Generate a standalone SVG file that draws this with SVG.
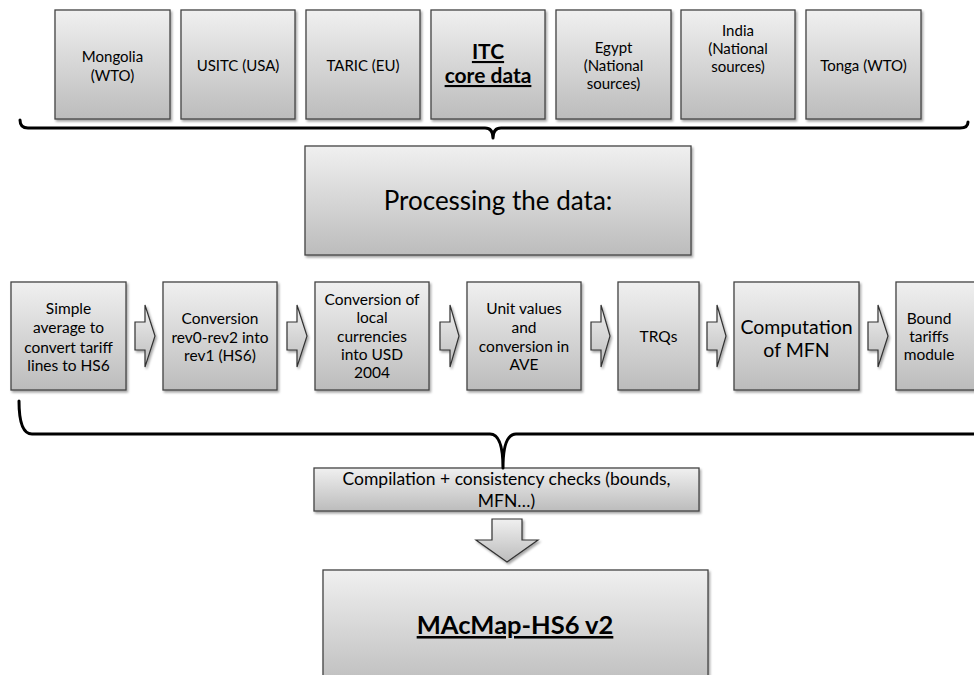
<svg xmlns="http://www.w3.org/2000/svg" width="974" height="675" viewBox="0 0 974 675">
<defs>
<linearGradient id="g" x1="0" y1="0" x2="0" y2="1">
<stop offset="0" stop-color="#f0f0f0"/>
<stop offset="1" stop-color="#bcbcbc"/>
</linearGradient>
<filter id="sh" x="-10%" y="-10%" width="130%" height="130%">
<feDropShadow dx="1.5" dy="2" stdDeviation="1.2" flood-color="#000" flood-opacity="0.35"/>
</filter>
</defs>
<style>
.box{fill:url(#g);stroke:#444;stroke-width:1.3;filter:url(#sh)}
.arr{fill:url(#g);stroke:#333;stroke-width:1.2;filter:url(#sh)}
.brace{fill:none;stroke:#000;stroke-width:3;stroke-linejoin:round;stroke-linecap:round}
text{font-family:Lato,"Open Sans","Liberation Sans",sans-serif;fill:#000;text-anchor:middle}
.s{font-size:15px}
.m{font-size:15.5px}
.b{font-weight:bold;text-decoration:underline}
</style>
<rect width="974" height="675" fill="#fff"/>
<g id="n-mongolia"><rect class="box" x="55" y="10" width="115" height="109"/><text class="s" x="112.5" y="62">Mongolia</text><text class="s" x="112.5" y="81">(WTO)</text></g>
<g id="n-usitc"><rect class="box" x="181" y="10" width="114" height="109"/><text class="s" x="238" y="71">USITC (USA)</text></g>
<g id="n-taric"><rect class="box" x="306" y="10" width="114" height="109"/><text class="s" x="363" y="71">TARIC (EU)</text></g>
<g id="n-itc"><rect class="box" x="431" y="10" width="114" height="109"/><text class="b" style="font-size:21px" x="488" y="59">ITC</text><text class="b" style="font-size:21px" x="488" y="83">core data</text></g>
<g id="n-egypt"><rect class="box" x="556" y="10" width="115" height="109"/><text class="s" x="613.5" y="53">Egypt</text><text class="s" x="613.5" y="71">(National</text><text class="s" x="613.5" y="89">sources)</text></g>
<g id="n-india"><rect class="box" x="681" y="10" width="114" height="109"/><text class="s" x="738" y="36">India</text><text class="s" x="738" y="54">(National</text><text class="s" x="738" y="72">sources)</text></g>
<g id="n-tonga"><rect class="box" x="806" y="10" width="115" height="109"/><text class="s" x="863.5" y="71">Tonga (WTO)</text></g>

<g id="n-processing"><rect class="box" x="305" y="146" width="386" height="109"/><text style="font-size:26px" x="498" y="210">Processing the data:</text></g>

<g id="n-simple"><rect class="box" x="11" y="282" width="115" height="108"/><text class="m" x="68.5" y="314">Simple</text><text class="m" x="68.5" y="333">average to</text><text class="m" x="68.5" y="353">convert tariff</text><text class="m" x="68.5" y="371">lines to HS6</text></g>
<g id="n-rev"><rect class="box" x="163" y="282" width="114" height="108"/><text class="m" x="220" y="324">Conversion</text><text class="m" x="220" y="343">rev0-rev2 into</text><text class="m" x="220" y="361">rev1 (HS6)</text></g>
<g id="n-curr"><rect class="box" x="315" y="282" width="114" height="108"/><text class="m" x="372" y="305">Conversion of</text><text class="m" x="372" y="323">local</text><text class="m" x="372" y="342">currencies</text><text class="m" x="372" y="360">into USD</text><text class="m" x="372" y="378">2004</text></g>
<g id="n-unit"><rect class="box" x="467" y="282" width="114" height="108"/><text class="m" x="524" y="314">Unit values</text><text class="m" x="524" y="333">and</text><text class="m" x="524" y="352">conversion in</text><text class="m" x="524" y="370">AVE</text></g>
<g id="n-trq"><rect class="box" x="618" y="282" width="81" height="108"/><text class="m" x="658.5" y="342">TRQs</text></g>
<g id="n-mfn"><rect class="box" x="734" y="282" width="125" height="108"/><text style="font-size:19.5px" x="796.5" y="334">Computation</text><text style="font-size:19.5px" x="796.5" y="357">of MFN</text></g>
<g id="n-bound"><rect class="box" x="896" y="282" width="90" height="108"/><text class="m" x="929" y="324">Bound</text><text class="m" x="929" y="342">tariffs</text><text class="m" x="929" y="360">module</text></g>

<g id="n-compilation"><rect class="box" x="314" y="468" width="385" height="43"/><text style="font-size:17.5px" x="506.5" y="485">Compilation + consistency checks (bounds,</text><text style="font-size:17.5px" x="506.5" y="507">MFN…)</text></g>

<g id="n-macmap"><rect class="box" x="323" y="570" width="385" height="120"/><text class="b" style="font-size:25.5px" x="515" y="634">MAcMap-HS6 v2</text></g>

<g id="connectors">
<path class="brace" d="M20,120 Q20,128 28,128 L485,128 Q493,128 493,138 Q493,128 501,128 L960,128 Q968,128 968,122"/>
<path class="brace" d="M19,401 Q19,434 32,434 L490,434 Q503,434 503,468 Q503,434 516,434 L985,434"/>
<path class="arr" d="M135,322 H145 V305 L155,336 L145,367 V350 H135 Z"/>
<path class="arr" d="M287,322 H297 V305 L307,336 L297,367 V350 H287 Z"/>
<path class="arr" d="M440,322 H450 V305 L459,336 L450,367 V350 H440 Z"/>
<path class="arr" d="M591,322 H601 V305 L610,336 L601,367 V350 H591 Z"/>
<path class="arr" d="M707,322 H717 V305 L726,336 L717,367 V350 H707 Z"/>
<path class="arr" d="M868,322 H878 V305 L888,336 L878,367 V350 H868 Z"/>
<path class="arr" d="M492,519 H522 V540 H538 L507,562 L476,540 H492 Z"/>
</g>
</svg>
